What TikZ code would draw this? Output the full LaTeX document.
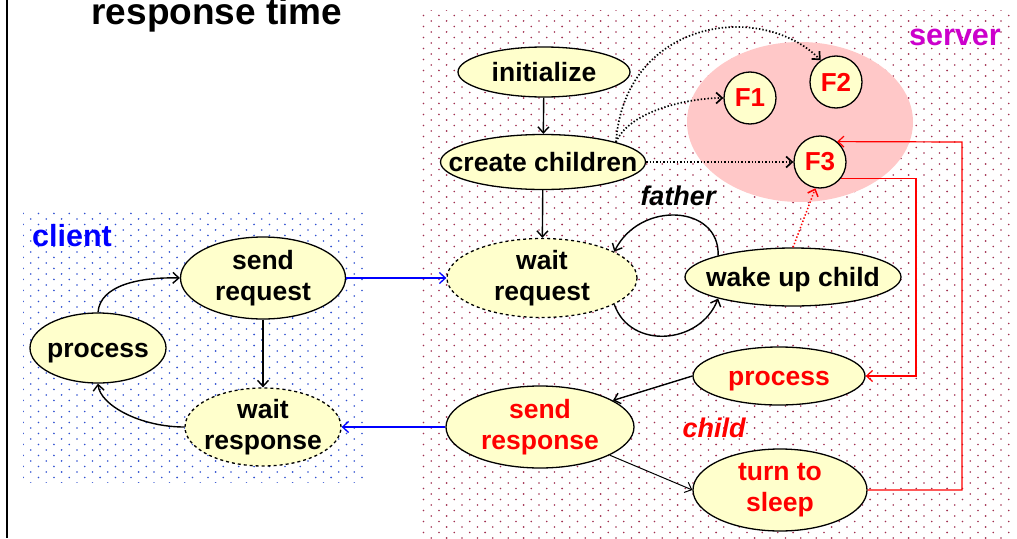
\documentclass[tikz,border=0pt]{standalone}
\usepackage{fontspec}
\setmainfont{Liberation Sans}
\usetikzlibrary{shapes.geometric,arrows.meta,patterns.meta}
\definecolor{yell}{HTML}{FFFFCC}
\definecolor{pinkc}{HTML}{FFC8C8}
\definecolor{servc}{HTML}{CC00CC}
\definecolor{sdot}{HTML}{A03050}
\definecolor{cdot}{HTML}{3050D0}
\tikzdeclarepattern{
  name=mydots,
  type=uncolored,
  bottom left={(-1pt,-1pt)},
  top right={(9pt,7pt)},
  tile size={(15.4pt,11pt)},
  code={\fill (0pt,0pt) circle (0.9pt); \fill (7.7pt,5.5pt) circle (0.9pt);}
}
\newcommand{\nfont}{\fontsize{26.5}{31}\selectfont\bfseries}
\begin{document}
\begin{tikzpicture}[x=1pt,y=-1pt,
  ntext/.style={font=\nfont, align=center, inner sep=0pt},
  one/.style={text height=19pt, text depth=1pt},
  shp/.style={ellipse, draw, line width=1.3pt, fill=yell, inner sep=0pt},
  st/.style={shp, label={[ntext]center:#1}},
  st1/.style={shp, label={[ntext,one]center:#1}},
  rst/.style={shp, label={[ntext,text=red]center:#1}},
  rst1/.style={shp, label={[ntext,one,text=red]center:#1}},
  fst/.style={circle, draw, fill=yell, line width=1.3pt, minimum size=52pt, inner sep=0pt, text=red, font=\fontsize{26}{30}\selectfont\bfseries},
  arr/.style={-{Straight Barb[length=6pt,width=11pt]}, line width=1.4pt},
  darr/.style={arr, dotted, line width=1.7pt},
  lbl/.style={font=\fontsize{30.5}{34}\selectfont\bfseries, inner sep=0pt},
  ilbl/.style={font=\fontsize{27}{30}\selectfont\bfseries\itshape, inner sep=0pt}
]
\useasboundingbox (0,0) rectangle (1017,538);
% left rule
\draw[line width=1.8pt] (7,0) -- (7,538);
% title
\node[font=\fontsize{37}{40}\selectfont\bfseries, anchor=base, inner sep=0pt] (title) at (217,24) {response time};
% regions
\fill[pattern=mydots, pattern color=cdot] (23,212) rectangle (366,482);
\fill[pattern=mydots, pattern color=sdot] (418,10) rectangle (1013,538);
\fill[pinkc] (800,122) ellipse [x radius=113, y radius=80];
% labels
\node[lbl, text=blue, anchor=base west] (client) at (32,246) {client};
\node[lbl, text=servc, anchor=base east] (server) at (1001,45) {server};
\node[ilbl, anchor=base] (father) at (678,205) {father};
\node[ilbl, text=red, anchor=base] (child) at (714,437) {child};
% server nodes
\node[st1={initialize}, minimum width=172pt, minimum height=50pt] (init) at (544,72) {};
\node[st1={create children}, minimum width=205pt, minimum height=55pt] (cc) at (543,162) {};
\node[st={wait\\request}, dashed, minimum width=190pt, minimum height=79pt] (wr) at (542,278) {};
\node[st1={wake up child}, minimum width=216pt, minimum height=58pt] (wuc) at (793,277) {};
\node[rst1={process}, minimum width=172pt, minimum height=58pt] (sp) at (779,376) {};
\node[rst={send\\response}, minimum width=188pt, minimum height=82pt] (sresp) at (540,427) {};
\node[rst={turn to\\sleep}, minimum width=174pt, minimum height=82pt] (ts) at (780,490) {};
\node[fst] (F1) at (750,98) {F1};
\node[fst] (F2) at (836,82) {F2};
\node[fst] (F3) at (820,162) {F3};
% client nodes
\node[st={send\\request}, minimum width=165pt, minimum height=82pt] (csr) at (263,278) {};
\node[st1={process}, minimum width=136pt, minimum height=70pt] (cp) at (98,348) {};
\node[st={wait\\response}, dashed, minimum width=156pt, minimum height=78pt] (wre) at (263,427) {};
% server connectors
\draw[arr] (init) -- (cc);
\draw[arr] (cc) -- (wr);
\draw[darr] (cc.east) -- (F3.west);
\draw[darr] (cc.north east) .. controls (630,110) and (690,98) .. (F1.west);
\draw[darr] (cc.north east) .. controls (625,20) and (760,0) .. (F2.125);
\draw[arr, red, dotted, line width=1.5pt] (wuc.north) -- (F3.-100);
\coordinate (r1) at (916,376);
\coordinate (r2) at (962,142);
\draw[arr, red, line width=1.2pt] (F3.-38) -| (r1) -- (sp.east);
\draw[arr, red, line width=1.2pt] (ts.east) -| (r2) -- (F3.50);
\draw[arr] (wuc.164) .. controls (720,205) and (640,200) .. (wr.20);
\draw[arr] (wr.-20) .. controls (630,350) and (700,345) .. (wuc.196);
\draw[arr] (sp.west) -- (sresp.20);
\draw[arr, line width=1pt] (sresp.-22) -- (ts.west);
% client connectors
\draw[arr] (csr) -- (wre);
\draw[arr] (cp.north) .. controls (100,285) and (140,277) .. (csr.west);
\draw[arr] (wre.west) .. controls (140,427) and (100,405) .. (cp.south);
% between
\draw[arr, blue, line width=1.3pt] (csr.east) -- (wr.west);
\draw[arr, blue, line width=1.3pt] (sresp.west) -- (wre.east);
\end{tikzpicture}
\end{document}
